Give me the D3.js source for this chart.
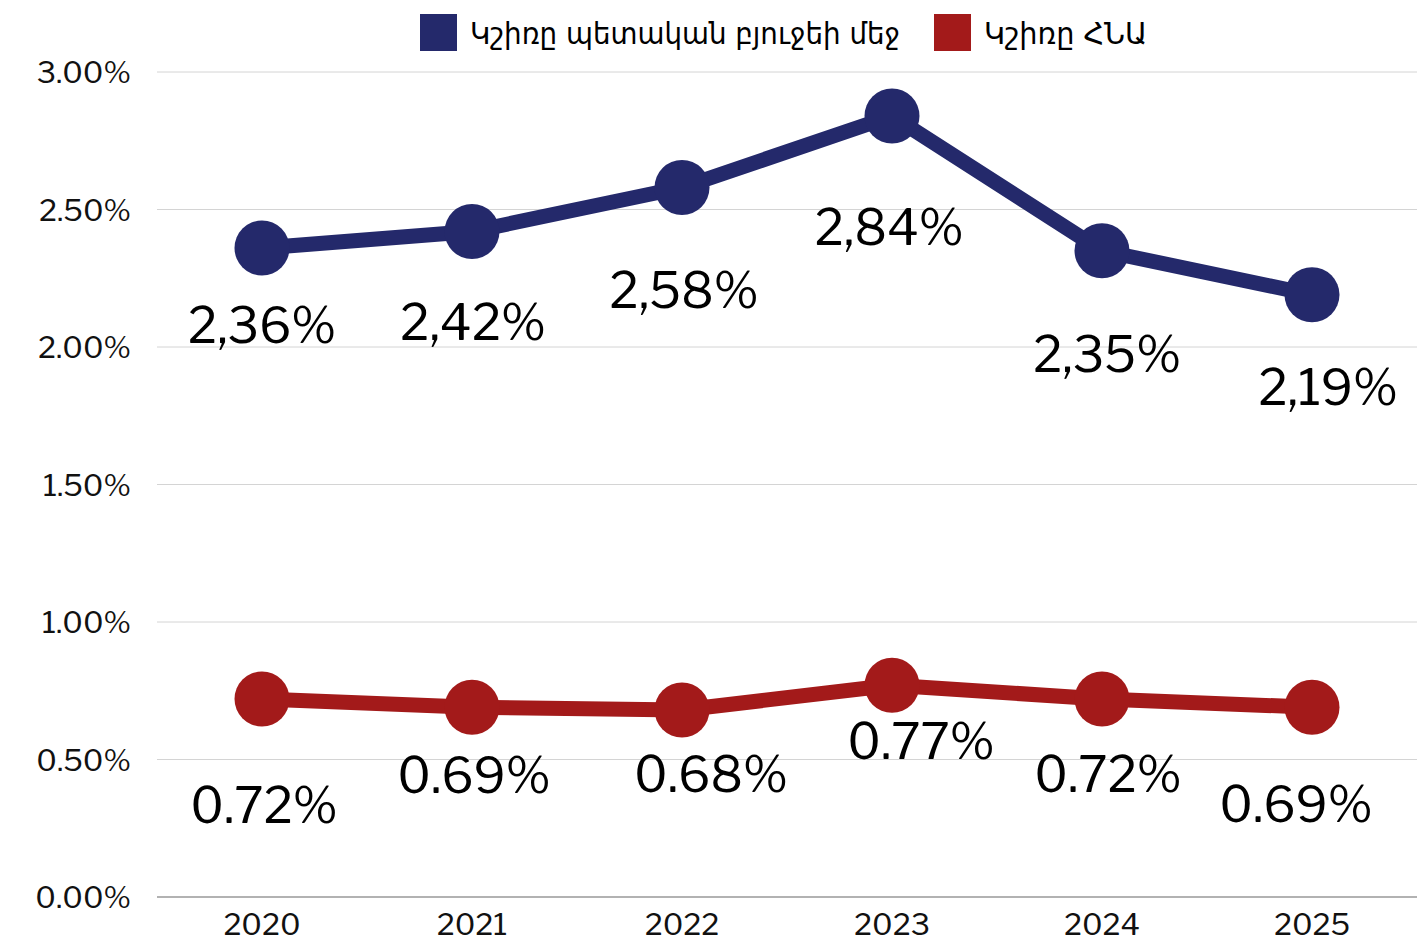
<!DOCTYPE html>
<html><head><meta charset="utf-8">
<script src="https://cdn.jsdelivr.net/npm/d3@7"></script>
<style>html,body{margin:0;padding:0;background:#fff;}svg{display:block;}</style>
</head><body>
<script>
const years = ["2020","2021","2022","2023","2024","2025"];
const budgetShare = [2.36, 2.42, 2.58, 2.84, 2.35, 2.19];
const gdpShare = [0.72, 0.69, 0.68, 0.77, 0.72, 0.69];
const budgetLabels = ["2,36%","2,42%","2,58%","2,84%","2,35%","2,19%"];
const gdpLabels = ["0.72%","0.69%","0.68%","0.77%","0.72%","0.69%"];
const yTicks = [0, 0.5, 1, 1.5, 2, 2.5, 3];
const seriesNames = ["Կշիռը պետական բյուջեի մեջ", "Կշիռը ՀՆԱ"];
// label placement offsets (dx, dy from point)
const budgetOff = [[0,95],[1,108],[2,120],[-3,129],[5,121],[16,110]];
const gdpOff = [[2,124],[2,86],[29,82],[29,74],[6,93],[-16,115]];

const W = 1417, H = 943;
const m = {left:157, right:0, top:72, bottom:46};
const colors = ["#24296b", "#a31a1a"];
const font = "'Libre Franklin', Inter, 'Open Sans', sans-serif";

const svg = d3.select("body").append("svg").attr("width", W).attr("height", H);
const x = d3.scaleBand().domain(years).range([m.left, W - m.right]);
const y = d3.scaleLinear().domain([0, 3]).range([H - m.bottom, m.top]);
const cx = d => x(d) + x.bandwidth()/2;

// gridlines
svg.append("g").selectAll("line").data(yTicks).join("line")
  .attr("x1", m.left).attr("x2", W - m.right)
  .attr("y1", d => y(d)).attr("y2", d => y(d))
  .attr("stroke", d => d === 0 ? "#999" : "#d4d4d4").attr("stroke-width", d => d===0?1.5:1);

// y axis
const yAxis = d3.axisLeft(y).tickValues(yTicks).tickFormat(d => d.toFixed(2) + "%").tickSize(0).tickPadding(26);
const gy = svg.append("g").attr("transform", `translate(${m.left},0)`).call(yAxis);
gy.select(".domain").remove();
gy.selectAll("text").attr("font-family", font).attr("font-size", 30).attr("fill", "#111").attr("dy", "0.35em");

// x axis
const xAxis = d3.axisBottom(x).tickSize(0).tickPadding(17);
const gx = svg.append("g").attr("transform", `translate(0,${H - m.bottom})`).call(xAxis);
gx.select(".domain").remove();
gx.selectAll("text").attr("font-family", font).attr("font-size", 30).attr("fill", "#111");

const line = d3.line().x(d => cx(d.year)).y(d => y(d.v));
const series = [
  {vals: budgetShare, labels: budgetLabels, off: budgetOff, color: colors[0]},
  {vals: gdpShare, labels: gdpLabels, off: gdpOff, color: colors[1]}
];
series.forEach(s => {
  const data = years.map((yr, i) => ({year: yr, v: s.vals[i], label: s.labels[i], off: s.off[i]}));
  svg.append("path").datum(data).attr("d", line).attr("fill", "none")
    .attr("stroke", s.color).attr("stroke-width", 15).attr("stroke-linejoin", "round");
  svg.append("g").selectAll("circle").data(data).join("circle")
    .attr("cx", d => cx(d.year)).attr("cy", d => y(d.v)).attr("r", 27.5).attr("fill", s.color);
  svg.append("g").selectAll("text").data(data).join("text")
    .attr("x", d => cx(d.year) + d.off[0]).attr("y", d => y(d.v) + d.off[1])
    .attr("text-anchor", "middle").attr("font-family", font).attr("font-size", 49)
    .attr("fill", "#000").text(d => d.label);
});

// legend
const leg = [{x:420, w:430}, {x:934, w:163}];
seriesNames.forEach((n, i) => {
  svg.append("rect").attr("x", leg[i].x).attr("y", 14).attr("width", 37).attr("height", 37).attr("fill", colors[i]);
  svg.append("text").attr("x", leg[i].x + 50).attr("y", 44)
    .attr("font-family", "'DejaVu Sans Condensed', 'DejaVu Sans', sans-serif").attr("font-size", 31)
    .attr("textLength", leg[i].w).attr("lengthAdjust", "spacingAndGlyphs")
    .attr("fill", "#000").text(n);
});
</script>
</body></html>
